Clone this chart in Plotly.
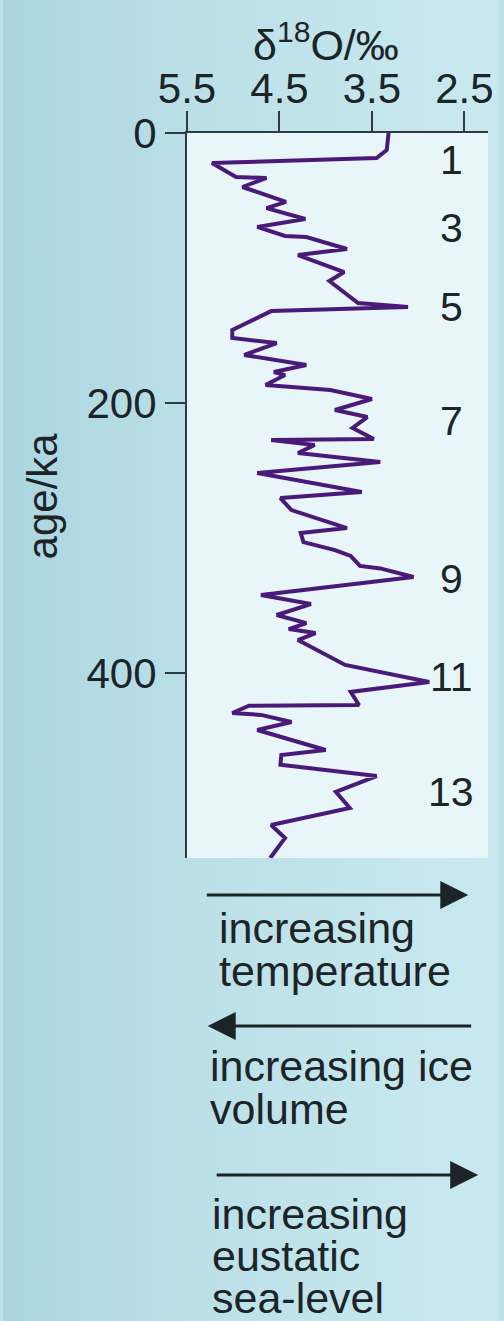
import base64
import plotly.graph_objects as go

# Benthic oxygen-isotope record: age (ka) and delta-18O (per mil)
age_ka = [0, 12.6, 18.5, 22.2, 32.6, 33.3, 40, 51, 55.6, 63.7, 69.6, 76.3, 77,
          85.9, 90.4, 103, 109.6, 125.9, 128.9, 131.9, 145.9, 151.9, 155.6,
          164.4, 171.9, 177, 179.3, 186.7, 190.4, 197, 205.2, 210.4, 218.5,
          226.7, 227.4, 231.1, 237, 243.7, 251.9, 265.9, 270.4, 279.3, 292.6,
          296.3, 303, 308.9, 313.3, 320.7, 322.5, 328.9, 342.2, 348.9, 357,
          363, 367.4, 370.4, 375.6, 394, 406.7, 414, 423.7, 424.2, 429.6,
          431, 436.3, 442.2, 457, 460.7, 468, 476.3, 488, 500, 512.6, 522.2,
          537]
d18o = [3.32, 3.34, 3.45, 5.23, 4.97, 4.64, 4.90, 4.43, 4.64, 4.22, 4.74,
        4.44, 4.21, 3.77, 4.30, 3.80, 3.96, 3.65, 3.11, 4.59, 5.01, 5.01,
        4.53, 4.88, 4.21, 4.56, 4.44, 4.65, 3.95, 3.50, 3.90, 3.55, 3.71,
        3.48, 4.59, 4.12, 4.30, 3.41, 4.74, 3.61, 4.49, 4.37, 3.77, 4.27,
        4.24, 3.90, 3.73, 3.63, 3.41, 3.05, 4.70, 4.16, 4.53, 4.21, 4.40,
        4.11, 4.30, 3.79, 2.88, 3.73, 3.64, 4.83, 5.01, 4.70, 4.37, 4.74,
        4.00, 4.48, 4.49, 3.45, 3.89, 3.74, 4.59, 4.44, 4.60]

# Marine isotope stage numbers and their ages
stage_labels = ["1", "3", "5", "7", "9", "11", "13"]
stage_ages = [20, 70, 129, 213, 330, 403, 488]

x_ticks = [5.5, 4.5, 3.5, 2.5]
y_ticks = [0, 200, 400]

FONT = "Liberation Sans, Arial, sans-serif"
INK = "#1d2427"
AXIS = "#2e3b40"

# plot frame in pixels
W, H = 504, 1321
L, R, T, B = 187, 493, 133, 858


def px(xp):
    return (xp - L) / (R - L)


def py(yp):
    return (B - yp) / (B - T)


# soft horizontal wash behind the whole page
wash_svg = (
    '<svg xmlns="http://www.w3.org/2000/svg" width="10" height="10" '
    'viewBox="0 0 10 10" preserveAspectRatio="none">'
    '<defs><linearGradient id="g" x1="0" y1="0" x2="1" y2="0">'
    '<stop offset="0" stop-color="#abd6e0"/>'
    '<stop offset="0.45" stop-color="#bde1e9"/>'
    '<stop offset="1" stop-color="#c9e9ef"/>'
    '</linearGradient></defs>'
    '<rect width="10" height="10" fill="url(#g)"/></svg>'
)
wash_src = "data:image/svg+xml;base64," + base64.b64encode(
    wash_svg.encode()).decode()

fig = go.Figure()
fig.add_trace(go.Scatter(
    x=d18o, y=age_ka, mode="lines",
    line=dict(color="#4a1a78", width=4),
    hoverinfo="skip", showlegend=False,
))

annotations = []
for lab, a in zip(stage_labels, stage_ages):
    annotations.append(dict(
        x=2.64, y=a, xref="x", yref="y", text=lab, showarrow=False,
        font=dict(family=FONT, size=41, color=INK),
        xanchor="center", yanchor="middle",
    ))

annotations.append(dict(
    x=px(328), y=py(42), xref="paper", yref="paper",
    text="δ<sup>18</sup>O/‰", showarrow=False,
    font=dict(family=FONT, size=43, color=INK),
    xanchor="center", yanchor="middle",
))
annotations.append(dict(
    x=px(40), y=py(496), xref="paper", yref="paper",
    text="age/ka", showarrow=False, textangle=-90,
    font=dict(family=FONT, size=42, color=INK),
    xanchor="center", yanchor="middle",
))

# direction arrows below the plot
arrows = [(210, 473, 895), (473, 208, 1026), (220, 483, 1175)]
for x0, x1, yy in arrows:
    annotations.append(dict(
        x=px(x1), y=py(yy), xref="paper", yref="paper",
        ax=x0 - x1, ay=0, text="", showarrow=True,
        arrowhead=2, arrowsize=2.0, arrowwidth=2.8, arrowcolor=INK,
    ))

# captions, one line each
captions = [
    ("increasing", 218, 928), ("temperature", 218, 971),
    ("increasing ice", 208, 1066), ("volume", 208, 1109),
    ("increasing", 210, 1214), ("eustatic", 210, 1256),
    ("sea-level", 210, 1298),
]
for txt, xx, yy in captions:
    annotations.append(dict(
        x=px(xx), y=py(yy), xref="paper", yref="paper",
        text=txt, showarrow=False, align="left",
        font=dict(family=FONT, size=43, color=INK),
        xanchor="left", yanchor="middle",
    ))

fig.update_layout(
    width=W, height=H,
    margin=dict(l=L, r=W - R, t=T, b=H - B, pad=0),
    paper_bgcolor="#bee2ea",
    plot_bgcolor="#e9f6f9",
    annotations=annotations,
    images=[dict(
        source=wash_src, xref="paper", yref="paper",
        x=px(0), y=py(0), sizex=W / (R - L), sizey=H / (B - T),
        xanchor="left", yanchor="top", sizing="stretch", layer="below",
    )],
    shapes=[dict(
        type="rect", xref="x domain", yref="y domain",
        x0=0, x1=1, y0=0, y1=1, fillcolor="#e9f6f9",
        line=dict(width=0), layer="below",
    )],
    xaxis=dict(
        side="top", range=[5.5, 2.245], tickvals=x_ticks,
        ticktext=[f"{v:.1f}" for v in x_ticks],
        ticks="outside", ticklen=20, tickwidth=2, tickcolor=AXIS,
        ticklabelstandoff=-9,
        showline=True, linecolor=AXIS, linewidth=2,
        showgrid=False, zeroline=False,
        tickfont=dict(family=FONT, size=42, color=INK),
    ),
    yaxis=dict(
        range=[537, 0], tickvals=y_ticks,
        ticks="outside", ticklen=20, tickwidth=2, tickcolor=AXIS,
        showline=True, linecolor=AXIS, linewidth=2,
        showgrid=False, zeroline=False,
        tickfont=dict(family=FONT, size=42, color=INK),
    ),
)

fig.write_html("out.html")
